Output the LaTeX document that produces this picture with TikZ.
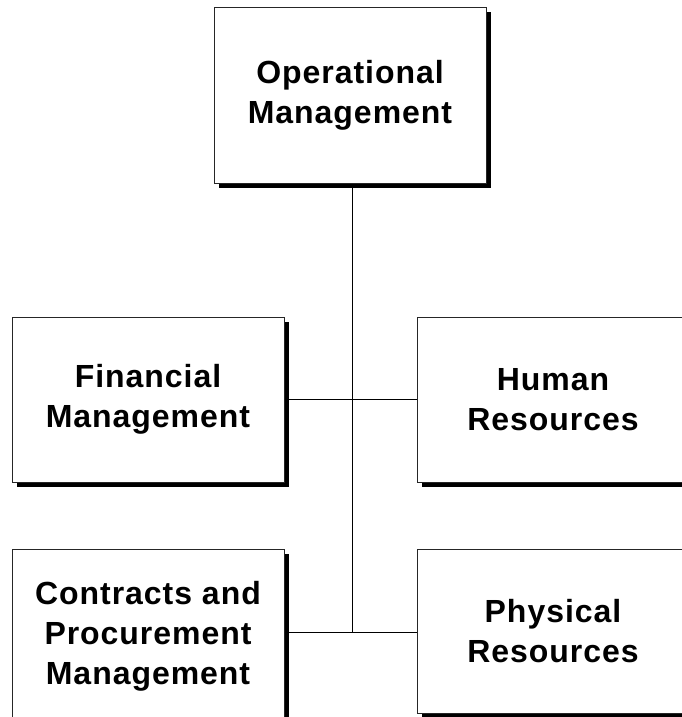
\documentclass[tikz,border=0pt]{standalone}
\usepackage{fontspec}
\setmainfont{Liberation Sans}
\newfontfamily\boxfont[LetterSpace=3]{Liberation Sans}
\usetikzlibrary{shadows}
\begin{document}
\begin{tikzpicture}[x=1pt,y=-1pt,
  orgbox/.style={draw=black!85, line width=1pt, fill=white, minimum width=272pt,
    align=center, font=\boxfont\fontsize{32}{40}\selectfont\bfseries,
    drop shadow={shadow xshift=4.5pt, shadow yshift=-4.5pt, fill=black, opacity=1}},
  link/.style={draw=black, line width=1pt}]
\useasboundingbox (0,0) rectangle (681,717);
\node[orgbox, minimum height=175pt] (op) at (350,95.5) {Operational\\Management};
\node[orgbox, minimum height=165pt] (fin) at (148,399.5) {Financial\\Management};
\node[orgbox, minimum height=165pt] (hr) at (553,399.5) {Human\\Resources};
\node[orgbox, minimum height=175pt] (cp) at (148,636.5) {Contracts and\\Procurement\\Management};
\node[orgbox, minimum height=164pt] (pr) at (553,631.5) {Physical\\Resources};
\coordinate (j1) at (352,399.5);
\coordinate (j2) at (352,632);
\draw[link] (op.south -| j1) -- (j2);
\draw[link] (fin.east) -- (hr.west);
\draw[link] (cp.east |- j2) -- (pr.west |- j2);
\end{tikzpicture}
\end{document}
